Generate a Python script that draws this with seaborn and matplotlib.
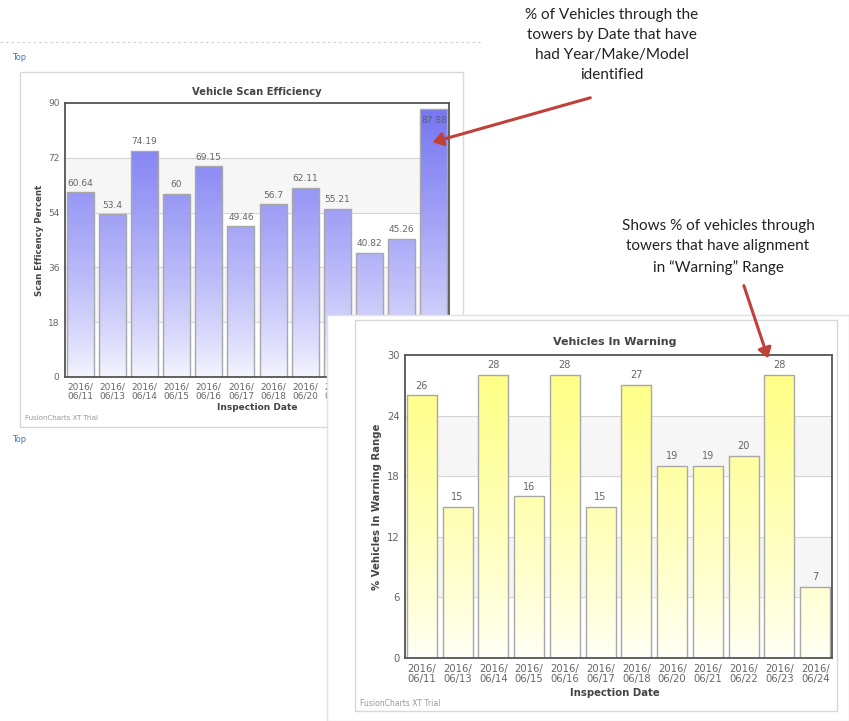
import numpy as np
import matplotlib
matplotlib.use("Agg")
import matplotlib.pyplot as plt
import seaborn as sns
from matplotlib.patches import Rectangle, FancyArrowPatch
from matplotlib.colors import LinearSegmentedColormap

# ---------------- data ----------------
dates = ["2016/\n06/11", "2016/\n06/13", "2016/\n06/14", "2016/\n06/15",
         "2016/\n06/16", "2016/\n06/17", "2016/\n06/18", "2016/\n06/20",
         "2016/\n06/21", "2016/\n06/22", "2016/\n06/23", "2016/\n06/24"]
scan_eff = [60.64, 53.4, 74.19, 60, 69.15, 49.46, 56.7, 62.11, 55.21, 40.82, 45.26, 87.88]
scan_labels = ["60.64", "53.4", "74.19", "60", "69.15", "49.46", "56.7", "62.11",
               "55.21", "40.82", "45.26", "87.88"]
warning = [26, 15, 28, 16, 28, 15, 27, 19, 19, 20, 28, 7]
ticks1 = [0, 18, 36, 54, 72, 90]
ticks2 = [0, 6, 12, 18, 24, 30]

W, H = 849, 721
sns.set_theme(style="white")
plt.rcParams['font.family'] = ['DejaVu Sans']

fig = plt.figure(figsize=(W / 100, H / 100), dpi=100)
fig.patch.set_facecolor("white")


def fx(x):
    return x / W


def fy(y):
    return 1 - y / H


def ax_rect(x0, y0, x1, y1):
    return [fx(x0), fy(y1), (x1 - x0) / W, (y1 - y0) / H]


def draw_chart(ax, values, labels, ticks, top_col, bot_col, tick_fs, val_fs, inside_thr, zo):
    ymax = ticks[-1]
    sns.barplot(x=list(range(len(values))), y=values, ax=ax, color=top_col,
                edgecolor="#a8a8a8", linewidth=1.0, width=0.84, saturation=1)
    bars = list(ax.patches)
    cmap = LinearSegmentedColormap.from_list("g", [bot_col, top_col])
    grad = np.linspace(0, 1, 256).reshape(-1, 1) ** 0.8
    for p in bars:
        x0, w, h = p.get_x(), p.get_width(), p.get_height()
        im = ax.imshow(grad, extent=[x0, x0 + w, 0, ymax], origin="lower", cmap=cmap,
                       aspect="auto", zorder=0.5, interpolation="bilinear", vmin=0, vmax=1)
        im.set_clip_path(p)
        p.set_facecolor("none")
        p.set_zorder(1)
    # alternating bands and grid
    for i in range(len(ticks) - 1):
        if i % 2 == 1:
            ax.axhspan(ticks[i], ticks[i + 1], color="#f6f6f6", zorder=-2, lw=0)
    for t in ticks[1:-1]:
        ax.axhline(t, color="#d4d4d4", lw=0.8, zorder=-1)
    for i, (v, lab) in enumerate(zip(values, labels)):
        if v > inside_thr:
            ax.annotate(lab, (i, v), xytext=(0, -5), textcoords="offset points",
                        ha="center", va="top", fontsize=val_fs, color="#5a5a80", zorder=3)
        else:
            ax.annotate(lab, (i, v), xytext=(0, 3.5), textcoords="offset points",
                        ha="center", va="bottom", fontsize=val_fs, color="#666666", zorder=3)
    ax.set_xlim(-0.47, len(values) - 0.53)
    ax.set_ylim(0, ymax)
    ax.set_yticks(ticks)
    ax.set_yticklabels([str(t) for t in ticks])
    ax.set_xticks(range(len(values)))
    ax.set_xticklabels(dates, linespacing=1.05)
    ax.tick_params(axis="both", length=0, labelsize=tick_fs, colors="#666666", pad=4)
    ax.set_xlabel("")
    ax.set_ylabel("")
    ax.set_facecolor("white")
    for s in ax.spines.values():
        s.set_visible(True)
        s.set_color("#555555")
        s.set_linewidth(1.3)
    ax.set_zorder(zo)


# ---- top dotted line and "Top" links ----
fig.add_artist(plt.Line2D([0, fx(480)], [fy(42), fy(42)], color="#cccccc", lw=0.8,
                          ls=(0, (2, 3)), zorder=0))
fig.text(fx(12), fy(58), "Top", fontsize=6, color="#3a78c8", va="center", zorder=1)
fig.text(fx(12), fy(440), "Top", fontsize=6, color="#3a78c8", va="center", zorder=1)

# ---------------- chart 1 ----------------
fig.add_artist(Rectangle((fx(20), fy(427)), (463 - 20) / W, (427 - 72) / H,
                         transform=fig.transFigure, facecolor="white",
                         edgecolor="#d8d8d8", lw=1.0, zorder=0.5))
ax1 = fig.add_axes(ax_rect(65, 103, 449, 377))
draw_chart(ax1, scan_eff, scan_labels, ticks1, "#7474f2", "#f6f6ff", 6.5, 6.5, 85, 2)
fig.text(fx(257), fy(92), "Vehicle Scan Efficiency", fontsize=7.2, fontweight="bold",
         color="#444444", ha="center", va="center", zorder=2)
fig.text(fx(257), fy(408), "Inspection Date", fontsize=6.5, fontweight="bold",
         color="#444444", ha="center", va="center", zorder=2)
fig.text(fx(40), fy(240), "Scan Efficency Percent", fontsize=6.2, fontweight="bold",
         color="#444444", ha="center", va="center", rotation=90, zorder=2)
fig.text(fx(25), fy(418), "FusionCharts XT Trial", fontsize=5, color="#999999",
         va="center", zorder=2)

# ---------------- chart 2 panel (covers chart 1) ----------------
fig.add_artist(Rectangle((fx(327), fy(721)), (W - 327) / W, (721 - 315) / H,
                         transform=fig.transFigure, facecolor="white",
                         edgecolor="#e2e2e2", lw=1.0, zorder=5))
fig.add_artist(Rectangle((fx(355), fy(711)), (837 - 355) / W, (711 - 320) / H,
                         transform=fig.transFigure, facecolor="white",
                         edgecolor="#d8d8d8", lw=1.0, zorder=5.5))
ax2 = fig.add_axes(ax_rect(405, 355, 832, 658))
draw_chart(ax2, warning, [str(v) for v in warning], ticks2, "#ffff80", "#fffff8", 7.2, 7, 99, 6)
fig.text(fx(615), fy(342), "Vehicles In Warning", fontsize=8, fontweight="bold",
         color="#444444", ha="center", va="center", zorder=7)
fig.text(fx(615), fy(693), "Inspection Date", fontsize=7.3, fontweight="bold",
         color="#444444", ha="center", va="center", zorder=7)
fig.text(fx(377), fy(507), "% Vehicles In Warning Range", fontsize=7.3, fontweight="bold",
         color="#444444", ha="center", va="center", rotation=90, zorder=7)
fig.text(fx(360), fy(703), "FusionCharts XT Trial", fontsize=5.5, color="#999999",
         va="center", zorder=7)

# ---------------- annotations ----------------
ann_font = ["Lato", "DejaVu Sans"]
fig.text(fx(612), fy(45), "% of Vehicles through the\ntowers by Date that have\nhad Year/Make/Model\nidentified",
         family=ann_font, fontsize=11, color="#222222", ha="center", va="center",
         linespacing=1.55, zorder=8)
fig.text(fx(718), fy(247), "Shows % of vehicles through\ntowers that have alignment\nin \u201cWarning\u201d Range",
         family=ann_font, fontsize=11, color="#222222", ha="center", va="center",
         linespacing=1.55, zorder=8)

arrow_col = "#c0403a"
a1 = FancyArrowPatch((fx(593), fy(97)), (fx(430), fy(143)), transform=fig.transFigure,
                     arrowstyle="-|>,head_length=6,head_width=4", color=arrow_col, lw=2.2,
                     zorder=9)
fig.add_artist(a1)
a2 = FancyArrowPatch((fx(743), fy(283)), (fx(769), fy(361)), transform=fig.transFigure,
                     arrowstyle="-|>,head_length=6,head_width=4", color=arrow_col, lw=2.2,
                     zorder=9)
fig.add_artist(a2)

fig.savefig("out.png", dpi=100, facecolor="white")
